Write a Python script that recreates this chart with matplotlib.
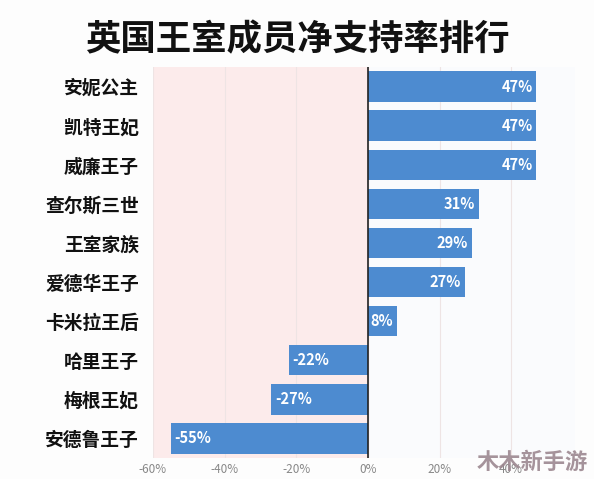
import matplotlib
matplotlib.use("Agg")
import matplotlib.pyplot as plt

plt.rcParams['font.family'] = ['Noto Sans CJK SC', 'DejaVu Sans']

# dados
nomes = ["安妮公主", "凯特王妃", "威廉王子", "查尔斯三世", "王室家族",
         "爱德华王子", "卡米拉王后", "哈里王子", "梅根王妃", "安德鲁王子"]
valores = [47, 47, 47, 31, 29, 27, 8, -22, -27, -55]
ticks = [-60, -40, -20, 0, 20, 40]
tick_labels = ["-60%", "-40%", "-20%", "0%", "20%", "40%"]

fig = plt.figure(figsize=(5.94, 4.79), dpi=100, facecolor="#fdfdfd")
ax = fig.add_axes([153/594, 1-458/479, (575-153)/594, (458-67)/479])
ax.set_facecolor("#fafbfd")

# zona negativa rosada
ax.axvspan(-60, 0, color="#fcebeb", zorder=0)
for t in ticks:
    ax.axvline(t, color="#eee4e4", lw=0.8, zorder=1)

pos = list(range(len(nomes)))
ax.barh(pos, valores, height=0.78, color="#4d8bd0", zorder=2)
ax.axvline(0, color="#222222", lw=1.2, zorder=3)

for y, v in zip(pos, valores):
    if v >= 0:
        ax.text(v - 1, y, f"{v}%", ha="right", va="center", color="white",
                fontsize=10.5, fontweight="bold", zorder=4)
    else:
        ax.text(v + 1, y, f"{v}%", ha="left", va="center", color="white",
                fontsize=10.5, fontweight="bold", zorder=4)

ax.set_xlim(-60, 57.8)
ax.set_ylim(len(nomes) - 0.5, -0.5)
ax.set_yticks(pos)
ax.set_yticklabels(nomes, fontsize=13.5, fontweight="bold", color="#111111")
ax.set_xticks(ticks)
ax.set_xticklabels(tick_labels, fontsize=8.5, color="#888888")
ax.tick_params(axis="both", length=0)
ax.tick_params(axis="y", pad=10)
for s in ax.spines.values():
    s.set_visible(False)

fig.text(0.5, 1-40/479, "英国王室成员净支持率排行", ha="center", va="center",
         fontsize=25.5, fontweight="bold", color="#111111")

# marca de agua
fig.text(0.99, 1-462/479, "木木新手游", ha="right", va="center",
         fontsize=16, fontweight="bold", color="#9c8890", alpha=0.9)

fig.savefig("out.png", dpi=100, facecolor=fig.get_facecolor())
